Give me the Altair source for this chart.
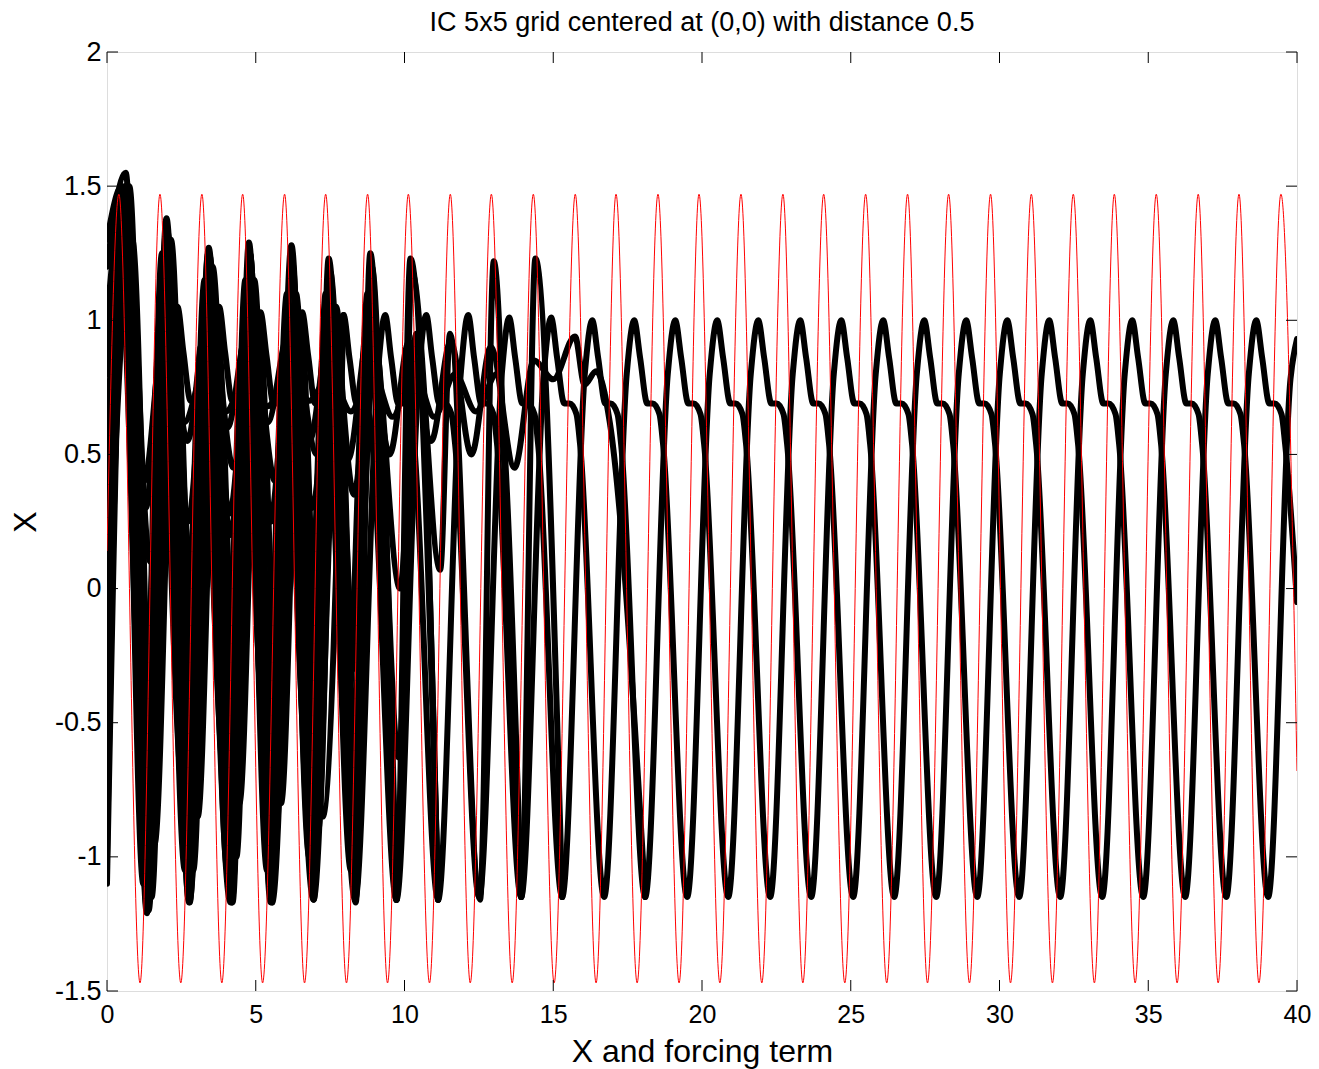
import altair as alt
import pandas as pd

# ---------------- data ----------------
TITLE = "IC 5x5 grid centered at (0,0) with distance 0.5"

# forcing term (red): start, peaks / troughs, end
red_t = [0.00, 0.40, 1.11, 1.78, 2.48, 3.19, 3.86, 4.56, 5.23, 5.97, 6.64, 7.35, 8.05,
         8.76, 9.43, 10.13, 10.84, 11.54, 12.21, 12.92, 13.62, 14.33, 15.03, 15.74,
         16.44, 17.11, 17.82, 18.52, 19.23, 19.90, 20.60, 21.31, 22.01, 22.72, 23.39,
         24.09, 24.80, 25.50, 26.21, 26.91, 27.58, 28.29, 28.99, 29.70, 30.37, 31.07,
         31.78, 32.48, 33.19, 33.86, 34.56, 35.27, 35.97, 36.68, 37.35, 38.05, 38.72,
         39.46, 40.00]
red_x = [0.14, 1.47, -1.47, 1.47, -1.47, 1.47, -1.47, 1.47, -1.47, 1.47, -1.47, 1.47, -1.47,
         1.47, -1.47, 1.47, -1.47, 1.47, -1.47, 1.47, -1.47, 1.47, -1.47, 1.47,
         -1.47, 1.47, -1.47, 1.47, -1.47, 1.47, -1.47, 1.47, -1.47, 1.47, -1.47,
         1.47, -1.47, 1.47, -1.47, 1.47, -1.47, 1.47, -1.47, 1.47, -1.47, 1.47,
         -1.47, 1.47, -1.47, 1.47, -1.47, 1.47, -1.47, 1.47, -1.47, 1.47, -1.47,
         1.47, -0.68]

# settled trajectory, group A
A_t = [0.00, 0.60, 1.36,
       2.12, 2.37, 2.57, 2.81, 2.99, 3.22, 3.34, 4.15,
       4.91, 5.16, 5.36, 5.60, 5.78, 6.01, 6.13, 6.94,
       7.70, 7.95, 8.15, 8.39, 8.57, 8.80, 8.92, 9.73,
       10.48, 10.73, 10.93, 11.17, 11.35, 11.58, 11.70, 12.51,
       13.27, 13.52, 13.72, 13.96, 14.14, 14.37, 14.49, 15.30,
       16.06, 16.31, 16.51, 16.75, 16.93, 17.16, 17.28, 18.09,
       18.85, 19.10, 19.30, 19.54, 19.72, 19.95, 20.07, 20.88,
       21.64, 21.89, 22.09, 22.33, 22.51, 22.74, 22.86, 23.67,
       24.43, 24.68, 24.88, 25.12, 25.30, 25.53, 25.65, 26.46,
       27.22, 27.47, 27.67, 27.91, 28.09, 28.32, 28.44, 29.25,
       30.01, 30.26, 30.46, 30.70, 30.88, 31.11, 31.23, 32.04,
       32.80, 33.05, 33.25, 33.49, 33.67, 33.90, 34.02, 34.83,
       35.59, 35.84, 36.04, 36.28, 36.46, 36.69, 36.81, 37.62,
       38.38, 38.63, 38.83, 39.07, 39.25, 39.48, 39.60, 40.00]
A_x = [0.25, 1.45, -1.15,
       0.82, 1.05, 0.88, 0.70, 0.70, 0.65, 0.54, -1.17,
       0.81, 1.03, 0.87, 0.69, 0.69, 0.65, 0.54, -1.16,
       0.80, 1.02, 0.86, 0.69, 0.69, 0.65, 0.54, -1.16,
       0.80, 1.02, 0.86, 0.69, 0.69, 0.65, 0.54, -1.15,
       0.80, 1.01, 0.86, 0.69, 0.69, 0.65, 0.54, -1.15,
       0.80, 1.00, 0.86, 0.69, 0.69, 0.65, 0.54, -1.15,
       0.80, 1.00, 0.86, 0.69, 0.69, 0.65, 0.54, -1.15,
       0.80, 1.00, 0.86, 0.69, 0.69, 0.65, 0.54, -1.15,
       0.80, 1.00, 0.86, 0.69, 0.69, 0.65, 0.54, -1.15,
       0.80, 1.00, 0.86, 0.69, 0.69, 0.65, 0.54, -1.15,
       0.80, 1.00, 0.86, 0.69, 0.69, 0.65, 0.54, -1.15,
       0.80, 1.00, 0.86, 0.69, 0.69, 0.65, 0.54, -1.15,
       0.80, 1.00, 0.86, 0.69, 0.69, 0.65, 0.54, -1.15,
       0.80, 1.00, 0.86, 0.69, 0.69, 0.65, 0.54, -0.05]

# settled trajectory, group B
B_t = [0.00, 0.55, 1.30, 2.00, 2.76,
       3.52, 3.77, 3.97, 4.21, 4.39, 4.62, 4.74, 5.55,
       6.31, 6.56, 6.76, 7.00, 7.18, 7.41, 7.53, 8.34,
       9.10, 9.35, 9.55, 9.79, 9.97, 10.20, 10.32, 11.13,
       11.89, 12.14, 12.34, 12.58, 12.76, 12.99, 13.11, 13.92,
       14.68, 14.93, 15.13, 15.37, 15.55, 15.78, 15.90, 16.71,
       17.47, 17.72, 17.92, 18.16, 18.34, 18.57, 18.69, 19.50,
       20.26, 20.51, 20.71, 20.95, 21.13, 21.36, 21.48, 22.29,
       23.05, 23.30, 23.50, 23.74, 23.92, 24.15, 24.27, 25.08,
       25.84, 26.09, 26.29, 26.53, 26.71, 26.94, 27.06, 27.87,
       28.63, 28.88, 29.08, 29.32, 29.50, 29.73, 29.85, 30.66,
       31.42, 31.67, 31.87, 32.11, 32.29, 32.52, 32.64, 33.45,
       34.21, 34.46, 34.66, 34.90, 35.08, 35.31, 35.43, 36.24,
       37.00, 37.25, 37.45, 37.69, 37.87, 38.10, 38.22, 39.03,
       39.78, 40.00]
B_x = [-0.60, 1.35, -1.00, 1.20, -1.17,
       0.82, 1.05, 0.88, 0.70, 0.70, 0.65, 0.54, -1.17,
       0.81, 1.03, 0.87, 0.69, 0.69, 0.65, 0.54, -1.16,
       0.80, 1.02, 0.86, 0.69, 0.69, 0.65, 0.54, -1.16,
       0.80, 1.02, 0.86, 0.69, 0.69, 0.65, 0.54, -1.15,
       0.80, 1.01, 0.86, 0.69, 0.69, 0.65, 0.54, -1.15,
       0.80, 1.00, 0.86, 0.69, 0.69, 0.65, 0.54, -1.15,
       0.80, 1.00, 0.86, 0.69, 0.69, 0.65, 0.54, -1.15,
       0.80, 1.00, 0.86, 0.69, 0.69, 0.65, 0.54, -1.15,
       0.80, 1.00, 0.86, 0.69, 0.69, 0.65, 0.54, -1.15,
       0.80, 1.00, 0.86, 0.69, 0.69, 0.65, 0.54, -1.15,
       0.80, 1.00, 0.86, 0.69, 0.69, 0.65, 0.54, -1.15,
       0.80, 1.00, 0.86, 0.69, 0.69, 0.65, 0.54, -1.15,
       0.80, 1.00, 0.86, 0.69, 0.69, 0.65, 0.54, -1.15,
       0.78, 0.93]

# transient trajectories
C_t = [0.00, 0.63, 1.34, 2.00, 2.75, 3.42, 4.20, 4.77, 5.50, 6.20, 6.95, 7.45, 8.36,
       8.85, 9.73, 10.20, 11.13]
C_x = [1.20, 1.55, -1.21, 1.38, -1.16, 1.27, -1.17, 1.29, -1.17, 1.28, -1.16, 1.23, -1.17,
       1.25, -1.16, 1.23, -1.16]

K_t = [0.00, 0.66, 1.38, 2.03, 2.78, 3.45, 4.22, 4.80, 5.52, 6.22, 6.97, 7.50, 8.38,
       8.90, 9.75, 10.25, 11.20, 11.53, 12.54, 13.00, 13.93, 14.40, 15.30]
K_x = [-0.90, 1.48, -1.18, 1.33, -1.12, 1.24, -1.12, 1.25, -1.12, 1.22, -1.10, 1.18, -1.12,
       1.20, -1.12, 1.18, 0.07, 0.95, -1.16, 1.22, -1.15, 1.23, -1.15]

E_t = [0.00, 0.58, 1.30, 1.98, 2.72, 3.40, 4.15, 4.82, 5.48, 6.22, 6.90, 7.60, 8.30,
       8.92, 9.85, 10.40, 11.13]
E_x = [1.00, 1.50, -0.60, 1.25, 0.05, 1.15, 0.20, 1.10, 0.25, 1.05, 0.30, 1.00, 0.35,
       0.98, 0.00, 0.95, -1.16]

F_t = [0.00, 0.60, 1.30, 1.95, 2.70, 3.35, 4.05, 4.70, 5.40, 6.10, 6.80, 7.50, 8.10,
       8.80, 9.50, 10.15, 10.90, 11.55, 12.25, 12.90, 13.70, 14.35, 15.00, 15.73,
       16.05, 16.44, 16.90, 18.09]
F_x = [0.50, 1.45, 0.30, 1.15, 0.55, 1.00, 0.60, 0.95, 0.62, 0.95, 0.55, 0.97, 0.48,
       0.95, 0.50, 0.92, 0.55, 0.92, 0.50, 0.90, 0.45, 0.85, 0.78, 0.94,
       0.76, 0.81, 0.62, -1.15]

G_t = [0.00, 0.70, 1.40, 2.05, 2.75, 3.45, 4.15, 4.85, 5.55, 6.25, 6.95, 7.60, 8.34]
G_x = [-0.50, 1.35, -0.50, 1.20, -0.28, 1.12, -0.30, 1.10, -0.35, 1.05, -0.30, 1.00, -1.16]

H_t = [0.00, 0.62, 1.35, 2.00, 2.75, 3.40, 4.20, 4.80, 5.50, 6.20, 6.95, 7.60, 8.36,
       9.00, 9.80, 10.40, 11.13]
H_x = [-1.00, 1.50, -1.20, 1.35, -1.10, 1.25, -1.10, 1.25, -1.00, 1.20, -0.50, 1.05, -0.30,
       0.95, -0.63, 0.95, -1.16]

C2_t = [0.00, 0.68, 1.40, 2.05, 2.78, 3.45, 4.22, 4.80, 5.55]
C2_x = [-1.10, 1.50, -1.20, 1.30, -1.17, 1.22, -1.17, 1.20, -1.17]

M_t = [0.00, 0.55, 1.25, 1.90, 2.60, 3.30, 4.00, 4.70, 5.40, 6.10, 6.80, 7.50, 8.20,
       8.90, 9.60, 10.30, 11.00, 11.70, 12.40, 13.10, 13.92]
M_x = [0.00, 1.30, 0.40, 0.95, 0.62, 0.82, 0.66, 0.80, 0.68, 0.78, 0.70, 0.80, 0.66,
       0.82, 0.64, 0.82, 0.64, 0.80, 0.66, 0.80, -1.15]

P1_t = [0.00, 0.75, 1.50, 2.15, 2.90, 3.55, 4.35, 4.95, 5.65, 6.35, 7.10, 7.70, 8.34]
P1_x = [0.60, 1.50, -1.15, 1.30, -1.05, 1.20, -1.00, 1.15, -0.95, 1.10, -0.90, 1.05, -1.16]

P2_t = [0.00, 0.50, 1.22, 1.85, 2.62, 3.28, 4.05, 4.65, 5.38, 6.05, 6.80, 7.35, 8.20,
        8.75, 9.73]
P2_x = [1.30, 1.50, -1.10, 1.25, -1.05, 1.15, -1.05, 1.15, -1.05, 1.10, -1.00, 1.10, -1.05,
        1.10, -1.16]

P3_t = [0.00, 0.58, 1.30, 1.95, 2.68, 3.35, 4.10, 4.75, 5.45, 6.15, 6.88, 7.55, 8.30,
        9.00, 9.73]
P3_x = [-0.40, 1.40, -0.90, 1.25, -0.65, 1.15, -0.60, 1.10, -0.55, 1.05, -0.50, 1.00, -0.45,
        0.95, -1.16]

P4_t = [0.00, 0.62, 1.32, 2.02, 2.72, 3.42, 4.12, 4.82, 5.52, 6.22, 6.92, 7.62, 8.34]
P4_x = [0.90, 1.45, -0.20, 1.15, 0.25, 1.05, 0.28, 1.00, 0.25, 1.00, 0.20, 0.95, -1.16]

P5_t = [0.00, 0.45, 1.25, 1.75, 2.55, 3.15, 3.95, 4.55, 5.35, 5.95, 6.70, 7.30, 8.05,
        8.70, 9.73]
P5_x = [0.80, 1.20, -0.80, 0.95, -0.75, 0.90, -0.70, 0.90, -0.65, 0.90, -0.60, 0.92, -0.55,
        0.95, -1.16]

P6_t = [0.00, 0.85, 1.60, 2.30, 3.05, 3.70, 4.45, 5.10, 5.85, 6.50, 7.25, 7.95]
P6_x = [-0.20, 1.30, -0.95, 1.05, -0.85, 0.98, -0.80, 1.00, -0.80, 1.00, -0.85, 1.02]

P7_t = [0.00, 0.70, 1.45, 2.15, 2.85, 3.55, 4.25, 4.95, 5.65, 6.35, 7.05, 7.70, 8.34]
P7_x = [-0.70, 1.40, 0.10, 1.10, 0.05, 0.95, 0.45, 0.90, 0.40, 0.85, 0.50, 0.90, -1.16]

x_ticks = [0, 5, 10, 15, 20, 25, 30, 35, 40]
y_ticks = [-1.5, -1, -0.5, 0, 0.5, 1, 1.5, 2]

# ---------------- tables ----------------
trajs = {"A": (A_t, A_x), "B": (B_t, B_x), "C": (C_t, C_x), "K": (K_t, K_x),
         "E": (E_t, E_x), "F": (F_t, F_x), "G": (G_t, G_x), "H": (H_t, H_x),
         "C2": (C2_t, C2_x), "M": (M_t, M_x), "P1": (P1_t, P1_x), "P2": (P2_t, P2_x),
         "P3": (P3_t, P3_x), "P4": (P4_t, P4_x), "P5": (P5_t, P5_x), "P6": (P6_t, P6_x),
         "P7": (P7_t, P7_x)}
rows = []
for name, (ts, xs_) in trajs.items():
    for i, (t, x) in enumerate(zip(ts, xs_)):
        rows.append({"traj": name, "i": i, "t": t, "x": x})
black = pd.DataFrame(rows)
red = pd.DataFrame({"i": range(len(red_t)), "t": red_t, "x": red_x})

W, H = 1190, 939
FONT = "Liberation Sans, Arial, Helvetica"
xs = alt.Scale(domain=[0, 40], nice=False, zero=False)
ys = alt.Scale(domain=[-1.5, 2], nice=False, zero=False)

xaxis = alt.Axis(values=x_ticks, ticks=False, domain=False, grid=False,
                 labelFontSize=25, labelFont=FONT, labelColor="black", labelPadding=11,
                 labelFlush=False, labelExpr="toString(datum.value)",
                 title="X and forcing term", titleFontSize=32, titleFont=FONT,
                 titleFontWeight="normal", titleColor="black", titlePadding=9)
yaxis = alt.Axis(values=y_ticks, ticks=False, domain=False, grid=False,
                 labelFontSize=27, labelFont=FONT, labelColor="black", labelPadding=6,
                 labelFlush=False, labelExpr="toString(datum.value)",
                 title="X", titleFontSize=32, titleFont=FONT,
                 titleFontWeight="normal", titleColor="black", titlePadding=12)

black_layer = alt.Chart(black).mark_line(
    interpolate="monotone", color="black", strokeWidth=6, clip=True,
    strokeJoin="round", strokeCap="round"
).encode(
    x=alt.X("t:Q", scale=xs, axis=xaxis),
    y=alt.Y("x:Q", scale=ys, axis=yaxis),
    detail="traj:N",
    order="i:Q",
)

red_layer = alt.Chart(red).mark_line(
    interpolate="monotone", color="#ff0000", strokeWidth=1, clip=True
).encode(
    x=alt.X("t:Q", scale=xs),
    y=alt.Y("x:Q", scale=ys),
    order="i:Q",
)

xt = pd.DataFrame({"v": x_ticks})
yt = pd.DataFrame({"v": y_ticks})
TL = 11
tick_bottom = alt.Chart(xt).mark_rule(color="black", strokeWidth=1).encode(
    x=alt.X("v:Q", scale=xs), y=alt.value(H), y2=alt.value(H - TL))
tick_top = alt.Chart(xt).mark_rule(color="black", strokeWidth=1).encode(
    x=alt.X("v:Q", scale=xs), y=alt.value(0), y2=alt.value(TL))
tick_left = alt.Chart(yt).mark_rule(color="black", strokeWidth=1).encode(
    y=alt.Y("v:Q", scale=ys), x=alt.value(0), x2=alt.value(TL))
tick_right = alt.Chart(yt).mark_rule(color="black", strokeWidth=1).encode(
    y=alt.Y("v:Q", scale=ys), x=alt.value(W - TL), x2=alt.value(W))

title_layer = alt.Chart(pd.DataFrame({"label": [TITLE]})).mark_text(
    font=FONT, fontSize=27, color="black", align="center", baseline="alphabetic"
).encode(
    text="label:N", x=alt.value(W / 2), y=alt.value(-21)
)

chart = alt.layer(
    black_layer, red_layer, tick_bottom, tick_top, tick_left, tick_right, title_layer
).properties(
    width=W, height=H,
    autosize=alt.AutoSizeParams(type="none"),
    padding={"left": 99, "top": 44, "right": 14, "bottom": 80},
).configure_view(
    stroke="black", strokeWidth=1
).configure(background="white")

chart.save("out.html", embed_options={"renderer": "svg", "actions": False})
